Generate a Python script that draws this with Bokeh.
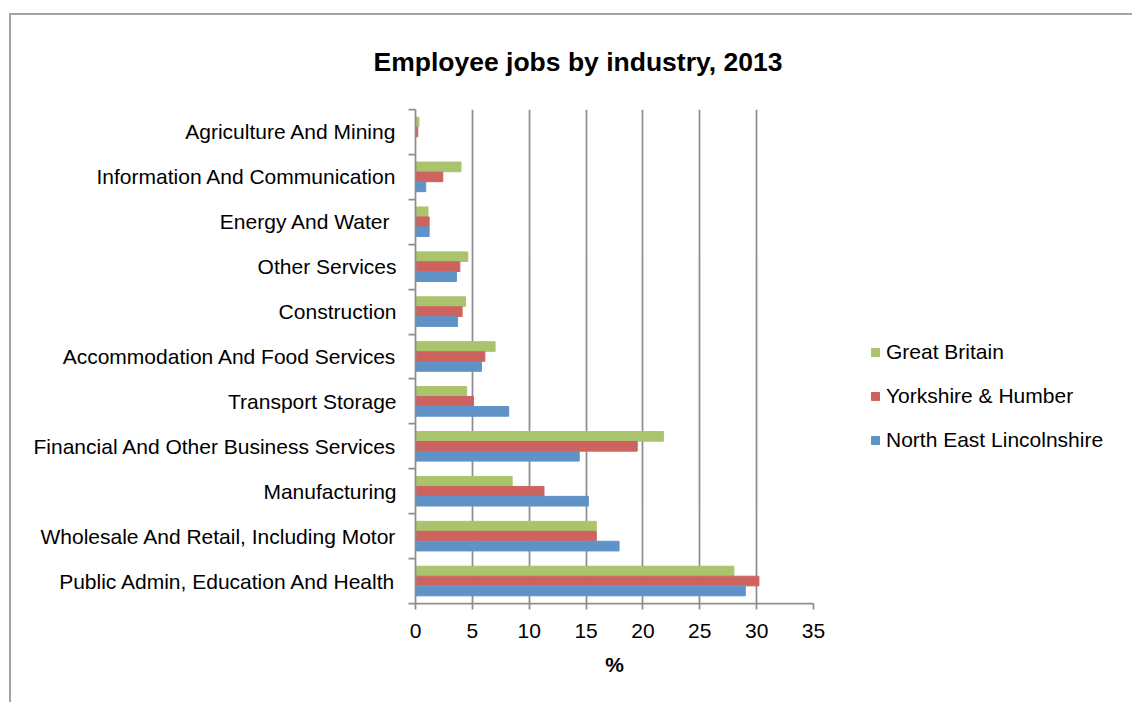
import numpy as np
from bokeh.plotting import figure
from bokeh.models import (ColumnDataSource, Range1d, FixedTicker, CustomJSTickFormatter,
                          Legend, LegendItem)
from bokeh.transform import dodge
from bokeh.embed import file_html
from bokeh.resources import INLINE

# ---- data (bottom to top) ----
categories = [
    "Public Admin, Education And Health",
    "Wholesale And Retail, Including Motor",
    "Manufacturing",
    "Financial And Other Business Services",
    "Transport Storage",
    "Accommodation And Food Services",
    "Construction",
    "Other Services",
    "Energy And Water ",
    "Information And Communication",
    "Agriculture And Mining",
]
great_britain = [28.0, 15.9, 8.5, 21.8, 4.5, 7.0, 4.4, 4.6, 1.1, 4.0, 0.3]
yorkshire_humber = [30.2, 15.9, 11.3, 19.5, 5.1, 6.1, 4.1, 3.9, 1.2, 2.4, 0.2]
ne_lincolnshire = [29.0, 17.9, 15.2, 14.4, 8.2, 5.8, 3.7, 3.6, 1.2, 0.9, 0.0]
series_names = ["Great Britain", "Yorkshire & Humber", "North East Lincolnshire"]
x_ticks = [0, 5, 10, 15, 20, 25, 30, 35]

FONT = "Liberation Sans"
GRID = "#8e8e8e"
C_GB, C_YH, C_NE = "#aac46e", "#cd635f", "#5f93c8"

n = len(categories)
pos = (np.arange(n) + 0.5).tolist()
src = ColumnDataSource(dict(pos=pos, gb=great_britain, yh=yorkshire_humber, ne=ne_lincolnshire))

p = figure(frame_width=398, frame_height=494, output_backend="svg", toolbar_location=None,
           x_range=Range1d(0, 35), y_range=Range1d(0, n),
           min_border_left=404, min_border_right=20, min_border_top=94, min_border_bottom=99)
p.styles = {"border-left": "2px solid #a3a3a3", "border-top": "2px solid #a3a3a3",
            "margin-left": "9px", "margin-top": "13px"}
p.outline_line_color = None
p.background_fill_color = "white"
p.border_fill_color = "white"

# title
p.title.text = "Employee jobs by industry, 2013"
p.title.align = "left"
p.title.vertical_align = "top"
p.title.offset = -42
p.title.standoff = 62
p.title.text_font = FONT
p.title.text_font_size = "26.5px"
p.title.text_font_style = "bold"
p.title.text_color = "black"

bh = 0.215
off = 0.222
r_gb = p.hbar(y=dodge("pos", off, range=p.y_range), right="gb", left=0, height=bh,
              source=src, fill_color=C_GB, line_color=C_GB)
r_yh = p.hbar(y="pos", right="yh", left=0, height=bh,
              source=src, fill_color=C_YH, line_color=C_YH)
r_ne = p.hbar(y=dodge("pos", -off, range=p.y_range), right="ne", left=0, height=bh,
              source=src, fill_color=C_NE, line_color=C_NE)

# x axis
xa = p.xaxis[0]
xa.ticker = FixedTicker(ticks=x_ticks)
xa.axis_line_color = GRID
xa.axis_line_width = 1.75
xa.major_tick_line_color = GRID
xa.major_tick_line_width = 1.75
xa.major_tick_out = 6
xa.major_tick_in = 0
xa.minor_tick_line_color = None
xa.major_label_text_font = FONT
xa.major_label_text_font_size = "21px"
xa.major_label_text_color = "black"
xa.major_label_standoff = 14
xa.axis_label = "%"
xa.axis_label_text_font = FONT
xa.axis_label_text_font_size = "21px"
xa.axis_label_text_font_style = "bold"
xa.axis_label_text_color = "black"
xa.axis_label_standoff = 12

# y axis
ya = p.yaxis[0]
ya.ticker = FixedTicker(ticks=pos, minor_ticks=list(range(n + 1)))
ya.formatter = CustomJSTickFormatter(args=dict(labels=categories),
                                     code="return labels[Math.round(tick - 0.5)];")
ya.axis_line_color = GRID
ya.axis_line_width = 1.75
ya.major_tick_line_color = None
ya.major_tick_out = 0
ya.major_tick_in = 0
ya.minor_tick_line_color = GRID
ya.minor_tick_line_width = 1.75
ya.minor_tick_out = 7
ya.minor_tick_in = 0
ya.major_label_text_font = FONT
ya.major_label_text_font_size = "21px"
ya.major_label_text_color = "black"
ya.major_label_standoff = 12

p.ygrid.grid_line_color = None
p.xgrid.ticker = FixedTicker(ticks=x_ticks)
p.xgrid.grid_line_color = GRID
p.xgrid.grid_line_width = 1.75

legend = Legend(items=[LegendItem(label=series_names[0], renderers=[r_gb]),
                       LegendItem(label=series_names[1], renderers=[r_yh]),
                       LegendItem(label=series_names[2], renderers=[r_ne])],
                location=(57, 151), orientation="vertical",
                glyph_width=10, glyph_height=10, label_standoff=6, spacing=20,
                padding=0, margin=0, border_line_color=None, background_fill_alpha=0,
                label_text_font=FONT, label_text_font_size="21px", label_text_color="black")
p.add_layout(legend, "right")

open("out.html", "w").write(file_html(p, INLINE))
